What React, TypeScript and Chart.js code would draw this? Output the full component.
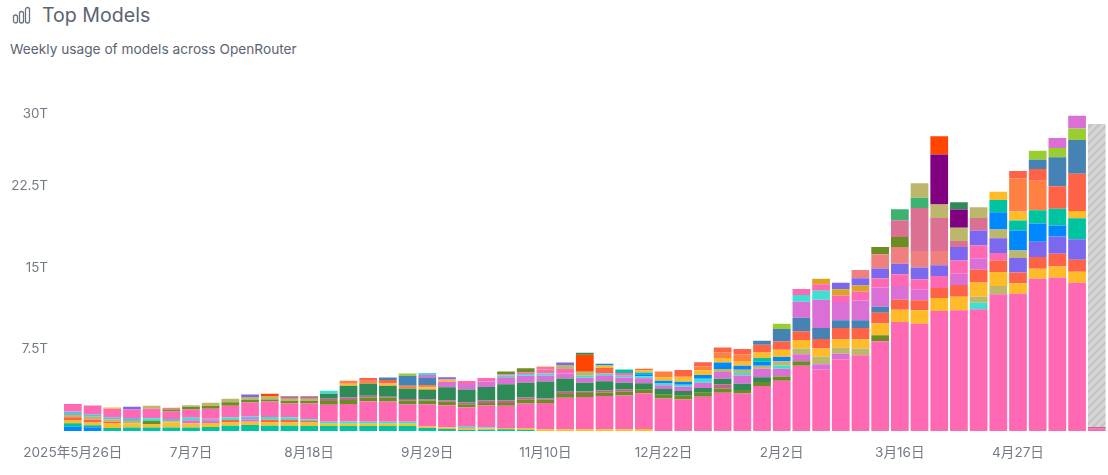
import React, { useEffect, useRef } from "react";
import { Chart, registerables } from "chart.js";

Chart.register(...registerables);

type Pts = [number, number][];

const weeks = [
  "2025年5月26日","6月2日","6月9日","6月16日","6月23日","6月30日","7月7日","7月14日","7月21日","7月28日","8月4日","8月11日",
  "8月18日","8月25日","9月1日","9月8日","9月15日","9月22日","9月29日","10月6日","10月13日","10月20日","10月27日","11月3日",
  "11月10日","11月17日","11月24日","12月1日","12月8日","12月15日","12月22日","12月29日","1月5日","1月12日","1月19日","1月26日",
  "2月2日","2月9日","2月16日","2月23日","3月2日","3月9日","3月16日","3月23日","3月30日","4月6日","4月13日","4月20日",
  "4月27日","5月4日","5月11日","5月18日","5月25日",
];
const shownWeeks = [0, 6, 12, 18, 24, 30, 36, 42, 48];

// y tick labels; the top label sits slightly below the 30T level in the reference
const yTickValues = [7.5, 15, 22.5, 29.1];
const yTickLabels = ["7.5T", "15T", "22.5T", "30T"];

const pinkMain = [.70,.79,.76,.79,.88,.70,.76,.92,1.07,1.28,1.43,1.28,1.46,1.56,1.59,1.89,1.86,1.59,2.04,2.04,1.80,2.01,2.04,2.26,2.41,2.90,2.96,3.05,3.11,3.29,2.99,2.90,3.14,3.51,3.45,4.12,4.61,5.98,5.61,6.59,6.95,8.24,10.0,9.85,11.01,11.07,11.16,12.54,12.6,13.97,14.06,13.6,.24];

const azure0: Pts = [[0,.40],[1,.34]];
const teal0: Pts = [[0,.31],[1,.18],[2,.27],[3,.31],[4,.31],[5,.31],[6,.31],[7,.37],[8,.49],[9,.55],[10,.49],[11,.49],[12,.46],[13,.46],[14,.46],[15,.46],[16,.46],[17,.46],[18,.27],[19,.18],[20,.12],[21,.12],[22,.15],[23,.12]];
const gold0: Pts = [[0,.31],[1,.27],[2,.43],[3,.40],[4,.34],[5,.46],[6,.40],[7,.37],[8,.31],[9,.31],[10,.31],[11,.31],[12,.31],[13,.21],[14,.21],[15,.21],[16,.21],[17,.21],[18,.15],[19,.15],[20,.15],[21,.12],[22,.12],[23,.15],[24,.15],[25,.15],[26,.15],[27,.15],[28,.15],[29,.18]];
const tomato0: Pts = [[0,.24],[1,.27],[2,.15],[8,.21],[10,.24],[11,.21],[12,.15]];
const olive0: Pts = [[4,.27]];
const orchid0: Pts = [[6,.27],[7,.18],[9,.21]];
const lavender0: Pts = [[7,.21]];
const tan0: Pts = [[0,.21],[1,.24],[2,.21],[3,.21],[5,.12]];
const sky0: Pts = [[0,.31],[1,.24],[2,.21],[3,.27],[5,.21],[9,.27]];
const turq0: Pts = [[4,.24],[6,.24],[8,.24],[10,.24],[11,.24],[12,.15],[13,.18],[14,.21],[15,.18],[16,.18],[17,.18],[20,.12],[21,.09]];

const olive1: Pts = [[5,.18],[6,.24],[7,.24],[8,.31],[9,.24],[10,.18],[11,.24],[12,.24],[13,.34],[14,.37],[15,.34],[16,.34],[17,.34],[18,.34],[19,.31],[20,.27],[21,.24],[22,.27],[23,.34],[24,.31],[25,.34],[26,.37],[27,.31],[28,.34],[29,.37],[30,.34],[31,.34],[32,.37],[33,.37],[34,.31],[35,.37],[36,.40],[37,.43],[41,.55]];
const tan1: Pts = [[4,.27],[6,.15],[7,.31],[8,.34],[9,.27],[10,.31],[11,.18],[12,.18]];
const mauve: Pts = [[11,.24],[12,.24],[13,.21],[14,.24],[15,.15],[16,.09],[17,.15],[18,.12],[19,.15],[20,.18],[21,.21],[22,.24],[23,.21],[24,.12],[25,.21],[26,.15],[27,.24],[28,.24],[33,.40],[52,.12]];
const seagreen: Pts = [[13,.46],[14,1.07],[15,1.10],[16,1.01],[17,.98],[18,.88],[19,1.19],[20,1.16],[21,1.25],[22,1.46],[23,1.34],[24,1.56],[25,1.22],[26,.79],[27,.82],[28,.58],[29,.55],[30,.52],[31,.43],[32,.43],[33,.52],[34,.58],[35,.43]];
const goldE: Pts = [[2,.12],[14,.18],[16,.21],[18,.18]];
const orangeE: Pts = [[14,.27],[15,.27],[17,.24],[18,.24]];
const tomatoE: Pts = [[15,.27],[16,.31]];
const steelE: Pts = [[16,.24],[17,.92],[18,.64]];
const greenE: Pts = [[17,.21]];
const orchidA: Pts = [[18,.27],[19,.49],[20,.52],[21,.49],[22,.64],[23,.64],[24,.55],[25,.46],[26,.46],[27,.55],[28,.49],[29,.46],[30,.34],[31,.40],[32,.49],[33,.61],[34,.76],[35,.79],[36,.70],[37,.64],[38,.52],[39,.49]];
const turqA: Pts = [[13,.27],[18,.18],[22,.18],[23,.18],[24,.18],[26,.18],[27,.15],[28,.15],[29,.18],[30,.21],[31,.18],[32,.37],[34,.21],[36,.31],[46,.61]];
const pinkA: Pts = [[20,.27],[21,.33],[22,.09],[23,.15],[24,.37],[25,.40],[28,.27]];
const tanA: Pts = [[25,.37],[26,.37],[33,.27],[34,.31],[35,.27],[36,.37],[37,.52],[38,.70],[39,.55],[40,.61],[46,.58],[47,.76]];
const azureA: Pts = [[29,.18],[30,.21],[31,.27],[32,.34],[33,.61],[34,.37],[35,.37],[36,.40]];
const tealA: Pts = [[29,.15],[35,.34]];
const goldA: Pts = [[19,.21],[29,.21],[30,.31],[31,.46],[32,.43],[33,.40],[34,.43],[35,.52],[36,.67],[37,.79],[38,.73],[39,.79],[40,.85],[41,1.07],[42,1.13],[43,1.22],[44,1.19],[45,1.25],[46,1.28],[47,1.28],[48,.95],[49,.92],[50,1.04],[51,1.01]];
const orangeA: Pts = [[30,.55],[32,.37],[33,.52],[34,.61]];
const redA: Pts = [[27,.52],[29,.15],[31,.61],[32,.37],[33,.46],[34,.49],[35,.70],[36,.76],[37,.79],[38,.88],[39,1.04],[40,1.04],[41,.98],[42,.92],[43,.92],[44,.92],[45,1.07],[46,1.16],[47,1.07],[48,.98],[49,1.07],[50,1.16],[51,1.10]];
const steelA: Pts = [[35,.37],[36,1.13],[37,1.25],[38,1.01],[39,.70],[40,.70],[41,.55]];
const greenA: Pts = [[36,.49]];
const orchidB: Pts = [[37,1.46],[38,2.59],[39,1.68],[40,1.83],[41,1.77],[42,1.25],[43,.98],[45,1.04],[46,1.07]];
const turqB: Pts = [[37,.61],[38,.82]];
const pinkB: Pts = [[37,.55],[38,.61],[39,.58],[40,.82],[41,.82],[42,1.07],[43,.95],[44,1.10],[45,1.22],[46,1.16],[47,.67]];
const goldenrod: Pts = [[38,.49],[39,.58],[40,.55]];
const purpleB: Pts = [[3,.24],[9,.21],[19,.21],[25,.24],[39,.61],[40,.67],[41,.92],[42,.98],[43,1.07],[44,.98],[45,1.22],[46,1.37],[47,1.37],[48,1.34],[49,1.40],[50,1.59],[51,1.89]];
const salmon: Pts = [[5,.15],[24,.27],[40,.76],[41,1.31],[42,1.53],[43,1.53],[44,1.31]];
const oliveB: Pts = [[22,.27],[23,.37],[41,.67],[42,.92]];
const violetRed: Pts = [[42,1.53],[43,3.93],[44,3.02],[45,.55],[46,1.16]];
const mediumGreen: Pts = [[42,1.01],[43,.95]];
const tanB: Pts = [[43,1.34],[44,1.25],[45,1.22],[46,.98],[47,.79],[48,.70]];
const darkPurple: Pts = [[44,4.58],[45,1.68]];
const orangeRed: Pts = [[10,.21],[26,1.56],[44,1.68]];
const seagreenTop: Pts = [[26,.18],[45,.67]];
const azureC: Pts = [[47,1.59],[48,1.83],[49,1.68],[50,1.01]];
const tealC: Pts = [[28,.31],[47,1.13],[48,.92],[49,1.22],[50,1.53],[51,1.92]];
const goldC: Pts = [[27,.21],[47,.76],[48,.82],[51,.67]];
const orangeC: Pts = [[48,3.02],[49,2.71]];
const redC: Pts = [[48,.70],[49,1.07],[50,2.07],[51,3.42]];
const steelC: Pts = [[49,.85],[50,2.65],[51,3.08]];
const greenC: Pts = [[49,.82],[50,.85],[51,1.07]];
const orchidC: Pts = [[50,.92],[51,1.16]];
const azureTop: Pts = [[27,.18]];
const incompleteWeek: Pts = [[52,27.8]];

const AZURE = "#0088FE", TEAL = "#00C49F", GOLD = "#FFBB28", ORANGE = "#FF8042", TOMATO = "#FF6347";
const ORCHID = "#DA70D6", STEEL = "#4682B4", GREEN = "#9ACD32", TURQ = "#40E0D0", PURPLE = "#7B68EE";
const TAN = "#BDB76B", OLIVE = "#6B8E23", SEA = "#2E8B57", PINK = "#FF69B4";

const layers: [string, string, Pts | number[]][] = [
  ["azure0", AZURE, azure0], ["teal0", TEAL, teal0], ["gold0", GOLD, gold0], ["tomato0", TOMATO, tomato0],
  ["olive0", OLIVE, olive0], ["orchid0", ORCHID, orchid0], ["lavender0", "#B39DDB", lavender0], ["tan0", TAN, tan0],
  ["sky0", "#6CB8D8", sky0], ["turq0", TURQ, turq0], ["pinkMain", PINK, pinkMain],
  ["olive1", OLIVE, olive1], ["tan1", TAN, tan1], ["mauve", "#B8698A", mauve], ["seagreen", SEA, seagreen],
  ["goldE", GOLD, goldE], ["orangeE", ORANGE, orangeE], ["tomatoE", TOMATO, tomatoE], ["steelE", STEEL, steelE], ["greenE", GREEN, greenE],
  ["orchidA", ORCHID, orchidA], ["turqA", TURQ, turqA], ["pinkA", PINK, pinkA], ["tanA", TAN, tanA],
  ["azureA", AZURE, azureA], ["tealA", TEAL, tealA], ["goldA", GOLD, goldA], ["orangeA", ORANGE, orangeA], ["redA", TOMATO, redA],
  ["steelA", STEEL, steelA], ["greenA", GREEN, greenA], ["orchidB", ORCHID, orchidB], ["turqB", TURQ, turqB], ["pinkB", PINK, pinkB],
  ["goldenrod", "#DAA520", goldenrod], ["purpleB", PURPLE, purpleB], ["salmon", "#F08080", salmon], ["oliveB", OLIVE, oliveB],
  ["violetRed", "#DB7093", violetRed], ["mediumGreen", "#3CB371", mediumGreen], ["tanB", TAN, tanB],
  ["darkPurple", "#800080", darkPurple], ["orangeRed", "#FF4500", orangeRed], ["seagreenTop", SEA, seagreenTop],
  ["azureC", AZURE, azureC], ["tealC", TEAL, tealC], ["goldC", GOLD, goldC], ["orangeC", ORANGE, orangeC], ["redC", TOMATO, redC],
  ["steelC", STEEL, steelC], ["greenC", GREEN, greenC], ["orchidC", ORCHID, orchidC], ["azureTop", AZURE, azureTop],
];

function expand(p: Pts | number[]): (number | null)[] {
  const out: (number | null)[] = weeks.map(() => null);
  (p as any[]).forEach((item, i) => {
    if (Array.isArray(item)) out[item[0]] = item[1];
    else out[i] = item;
  });
  return out;
}

function hatch(): CanvasPattern | string {
  const c = document.createElement("canvas");
  c.width = 8;
  c.height = 8;
  const g = c.getContext("2d");
  if (!g) return "#d3d3d3";
  g.fillStyle = "#d6d6d6";
  g.fillRect(0, 0, 8, 8);
  g.strokeStyle = "#c2c2c2";
  g.lineWidth = 2;
  g.beginPath();
  g.moveTo(-2, 10); g.lineTo(10, -2);
  g.moveTo(-2, 2); g.lineTo(2, -2);
  g.moveTo(6, 10); g.lineTo(10, 6);
  g.stroke();
  return g.createPattern(c, "repeat") || "#d3d3d3";
}

const FONT = "Inter, 'Noto Sans CJK JP', sans-serif";
const GREY = "#737a86";

export default function App() {
  const ref = useRef<HTMLCanvasElement>(null);
  useEffect(() => {
    if (!ref.current) return;
    const datasets: any[] = layers.map(([label, color, pts]) => ({
      label,
      data: expand(pts),
      backgroundColor: color,
      borderWidth: 0,
      barPercentage: 0.9,
      categoryPercentage: 1,
    }));
    datasets.push({
      label: "incomplete",
      data: expand(incompleteWeek),
      backgroundColor: hatch(),
      borderWidth: 0,
      barPercentage: 0.9,
      categoryPercentage: 1,
    });
    const chart = new Chart(ref.current, {
      type: "bar",
      data: { labels: weeks, datasets },
      options: {
        animation: false,
        responsive: false,
        layout: { padding: { top: 104, right: 1.4, left: 0, bottom: 0 } },
        plugins: { legend: { display: false }, tooltip: { enabled: false }, title: { display: false } },
        scales: {
          x: {
            stacked: true,
            grid: { display: false },
            border: { display: false },
            afterFit: (s: any) => { s.height = 44; s.paddingLeft = 0; s.paddingRight = 0; },
            ticks: {
              autoSkip: false,
              maxRotation: 0,
              minRotation: 0,
              padding: 6,
              color: GREY,
              font: { family: FONT, size: 13.6 },
              callback: (_v: any, i: number) => (shownWeeks.includes(i) ? weeks[i] : ""),
            },
          },
          y: {
            stacked: true,
            min: 0,
            max: 30,
            grid: { display: false },
            border: { display: false },
            afterFit: (s: any) => { s.width = 63; },
            afterBuildTicks: (s: any) => { s.ticks = yTickValues.map((value) => ({ value })); },
            ticks: {
              padding: 7,
              color: GREY,
              font: { family: FONT, size: 13.4 },
              callback: (v: any) => yTickLabels[yTickValues.indexOf(v)] ?? "",
            },
          },
        },
      },
    } as any);
    return () => chart.destroy();
  }, []);

  return (
    <div style={{ position: "absolute", left: 0, top: 0, width: 1108, height: 475, background: "#fff", overflow: "hidden" }}>
      <svg width="19" height="18" viewBox="0 0 19 18" style={{ position: "absolute", left: 12, top: 6 }} fill="none" stroke="#6b7280" strokeWidth="1.3">
        <rect x="1.5" y="9" width="4" height="8" rx="2" />
        <rect x="7.5" y="5.5" width="4" height="11.5" rx="2" />
        <rect x="13.5" y="1.5" width="4" height="15.5" rx="2" />
      </svg>
      <div style={{ position: "absolute", left: 42, top: 3, fontFamily: FONT, fontSize: 19.6, lineHeight: "24px", color: "#5b6472", whiteSpace: "nowrap" }}>Top Models</div>
      <div style={{ position: "absolute", left: 10, top: 40, fontFamily: FONT, fontSize: 13.7, lineHeight: "18px", color: "#5b6472", whiteSpace: "nowrap" }}>Weekly usage of models across OpenRouter</div>
      <canvas ref={ref} width={1108} height={475} style={{ position: "absolute", left: 0, top: 0, width: 1108, height: 475 }} />
    </div>
  );
}
